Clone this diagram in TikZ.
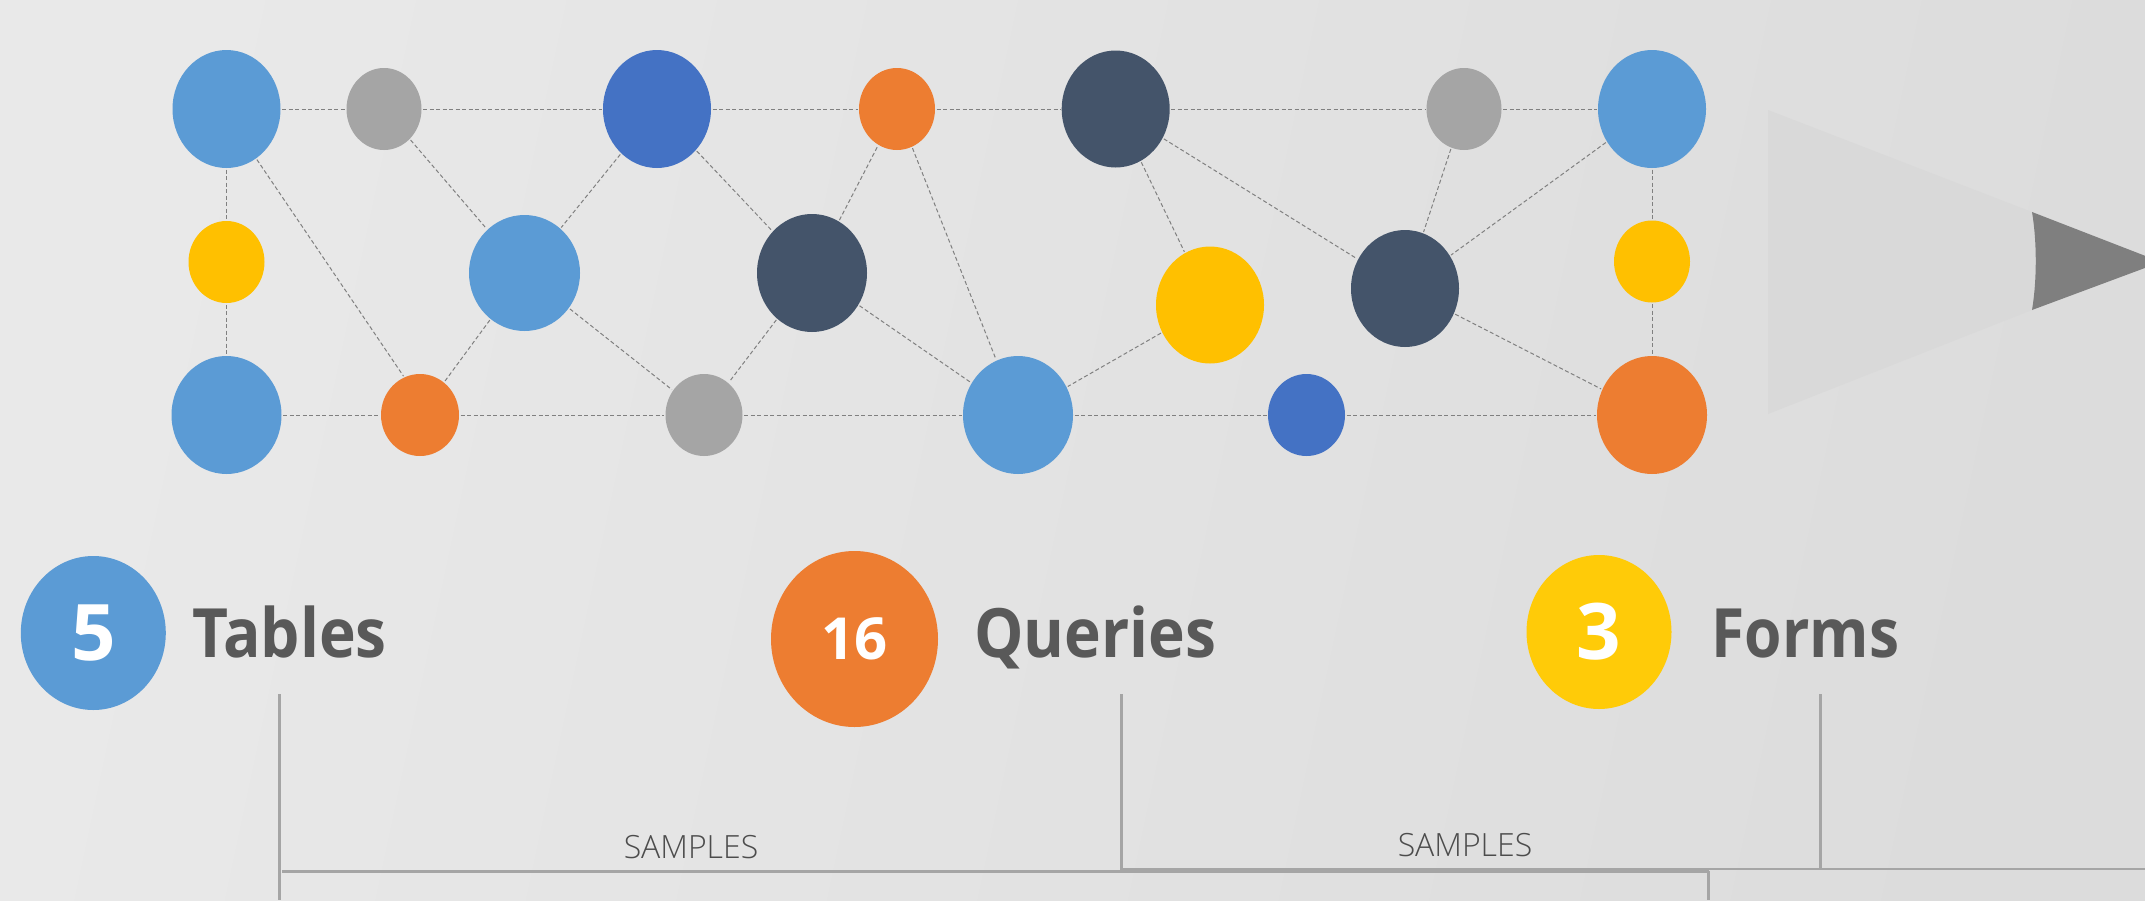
\documentclass[tikz,border=0pt]{standalone}
\usepackage{fontspec}
\setmainfont{Open Sans}
\newfontfamily\lightf{Open Sans Light}
\newfontfamily\headf{Open Sans}[FakeStretch=0.915]
\newfontfamily\headg{Open Sans}[FakeStretch=0.89]
\usetikzlibrary{shapes.geometric}
\definecolor{cblue}{HTML}{5B9BD5}
\definecolor{cdblue}{HTML}{4472C4}
\definecolor{cgrey}{HTML}{A5A5A5}
\definecolor{corange}{HTML}{ED7D31}
\definecolor{cyell}{HTML}{FFC000}
\definecolor{cyell2}{HTML}{FFCB08}
\definecolor{cdark}{HTML}{44546A}
\definecolor{ctext}{HTML}{595959}
\definecolor{csmp}{HTML}{4C4C4C}
\definecolor{cbgA}{HTML}{E9E9E9}
\definecolor{cbgB}{HTML}{DCDCDC}
\definecolor{cpen}{HTML}{D9D9D9}
\definecolor{ctip}{HTML}{7F7F7F}
\tikzset{
 dot/.style n args={3}{ellipse,draw=none,fill=#1,inner sep=0pt,outer sep=1.5pt,minimum width=#2pt,minimum height=#3pt},
 bl/.style={dot={cblue}{108}{118}},
 dk/.style={dot={cdark}{108}{117}},
 db/.style={dot={cdblue}{108}{118}},
 ylb/.style={dot={cyell}{108}{117}},
 orb/.style={dot={corange}{110}{118}},
 gs/.style={dot={cgrey}{75}{82}},
 os/.style={dot={corange}{76}{82}},
 ys/.style={dot={cyell}{76}{82}},
 dbs/.style={dot={cdblue}{77}{82}},
 edge/.style={draw=black!50,line width=1pt,dash pattern=on 4pt off 2.5pt},
 rulev/.style={draw=cgrey,line width=2.6pt},
 ruleh/.style={draw=cgrey,line width=2.6pt},
 head/.style={text=ctext,font=\headf\bfseries\fontsize{68}{70}\selectfont,inner sep=0pt,anchor=base west},
 headn/.style={text=ctext,font=\headg\bfseries\fontsize{68}{70}\selectfont,inner sep=0pt,anchor=base west},
 num/.style={text=white,font=\bfseries\fontsize{#1}{#1}\selectfont,inner sep=0pt},
 smp/.style={text=csmp,font=\lightf\fontsize{32}{36}\selectfont,inner sep=0pt,anchor=base},
}
\begin{document}
\begin{tikzpicture}[x=1pt,y=-1pt]
\useasboundingbox (0,0) rectangle (2145,900);
\clip (0,0) rectangle (2145,900);
\shade[left color=cbgA,right color=cbgB,shading angle=78] (0,0) rectangle (2145,900);
% pencil
\fill[cpen] (1768,110) -- (2032,212) .. controls (2037,242) and (2037,280) .. (2032,310) -- (1768,414) -- cycle;
\fill[ctip] (2032,212) -- (2161,262) -- (2032,310) .. controls (2037,280) and (2037,242) .. (2032,212) -- cycle;
% nodes
\node[bl] (n1) at (226.5,109) {};
\node[gs] (n2) at (384,109) {};
\node[db] (n3) at (657,109) {};
\node[os] (n4) at (897,109) {};
\node[dk] (n11) at (1115.7,109) {};
\node[gs] (n12) at (1464,109) {};
\node[bl] (n13) at (1652,109) {};
\node[ys] (n5) at (226.5,262) {};
\node[dot={cblue}{111}{116}] (n6) at (524.5,273) {};
\node[dot={cdark}{110}{118}] (n7) at (812,273) {};
\node[ylb] (n14) at (1210,305) {};
\node[dk] (n15) at (1405,288.5) {};
\node[ys] (n16) at (1652,261.5) {};
\node[dot={cblue}{110}{118}] (n8) at (226.5,415) {};
\node[dot={corange}{78}{82}] (n9) at (420,415) {};
\node[dot={cgrey}{77}{82}] (n10) at (704,415) {};
\node[dot={cblue}{110}{118}] (n17) at (1018,415) {};
\node[dbs] (n18) at (1306.5,415) {};
\node[orb] (n19) at (1652,415) {};
% edges
\draw[edge] (n1)--(n2); \draw[edge] (n2)--(n3); \draw[edge] (n3)--(n4); \draw[edge] (n4)--(n11); \draw[edge] (n11)--(n12); \draw[edge] (n12)--(n13);
\draw[edge] (n8)--(n9); \draw[edge] (n9)--(n10); \draw[edge] (n10)--(n17); \draw[edge] (n17)--(n18); \draw[edge] (n18)--(n19);
\draw[edge] (n1)--(n5); \draw[edge] (n5)--(n8); \draw[edge] (n13)--(n16); \draw[edge] (n16)--(n19);
\draw[edge] (n1.-59)--(n9.113); \draw[edge] (n2)--(n6); \draw[edge] (n3)--(n6); \draw[edge] (n6)--(n9); \draw[edge] (n6)--(n10);
\draw[edge] (n3)--(n7); \draw[edge] (n7)--(n4); \draw[edge] (n7)--(n10); \draw[edge] (n7)--(n17); \draw[edge] (n4)--(n17);
\draw[edge] (n11)--(n14); \draw[edge] (n11)--(n15); \draw[edge] (n14)--(n17); \draw[edge] (n12)--(n15); \draw[edge] (n13)--(n15); \draw[edge] (n15)--(n19);
% legend
\node[dot={cblue}{145}{154},num=78] (c5) at (93.3,633) {5};
\node[dot={corange}{167}{176},num=58] (c16) at (854.5,639) {16};
\node[dot={cyell2}{145}{154},num=78] (c3) at (1599,632) {3};
\node[head] (t1) at (192,657.5) {Tables};
\node[head] (t2) at (974,657.5) {Queries};
\node[headn] (t3) at (1711.5,657.5) {Forms};
% rules
\coordinate (a1) at (279.3,694); \coordinate (a2) at (279.3,900);
\coordinate (b1) at (1121.3,694); \coordinate (b2) at (1121.3,871);
\coordinate (c1) at (1820.7,694); \coordinate (c2) at (1820.7,870);
\coordinate (h1) at (282,871.3); \coordinate (h5) at (1708.7,871.3);
\coordinate (h3) at (1121,869); \coordinate (h4) at (2145,869);
\coordinate (h6) at (1708.7,900);
\draw[rulev] (a1)--(a2); \draw[rulev] (b1)--(b2); \draw[rulev] (c1)--(c2); \draw[rulev] (h5)--(h6);
\draw[ruleh] (h1)--(h5); \draw[ruleh] (h3)--(h4);
\node[smp] (s1) at (691,858) {SAMPLES};
\node[smp] (s2) at (1465,856) {SAMPLES};
\end{tikzpicture}
\end{document}
